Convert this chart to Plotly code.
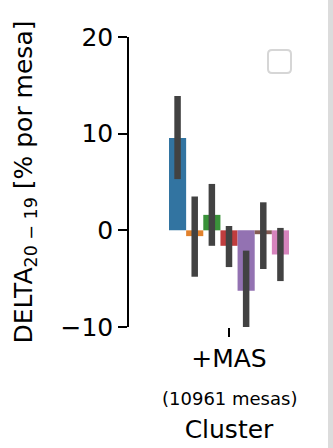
import plotly.graph_objects as go

# ---- data ----
categories = ["+MAS"]
counts = [10961]
groups = ["1", "2", "3", "4", "5", "6", "7"]
means = [9.55, -0.6, 1.6, -1.6, -6.25, -0.4, -2.5]
ci_low = [5.3, -4.8, -1.6, -3.8, -10.1, -4.0, -5.25]
ci_high = [13.9, 3.5, 4.8, 0.45, -2.1, 2.9, 0.25]
colors = ["#3274a1", "#e1812c", "#3a923a", "#c03d3e", "#9372b2", "#845b53", "#d684bd"]
yticks = [-10, 0, 10, 20]

FONT = "DejaVu Sans"
FS = 25

fig = go.Figure()
for g, m, lo, hi, c in zip(groups, means, ci_low, ci_high, colors):
    fig.add_trace(go.Bar(
        x=categories, y=[m], name=g, marker=dict(color=c, line=dict(width=0)),
        error_y=dict(type="data", symmetric=False, array=[hi - m], arrayminus=[m - lo],
                     color="#424242", thickness=6.5, width=0),
        showlegend=False, cliponaxis=False,
    ))

W, H = 328, 448
L, R, T, B = 128, 24, 37, 121
plot_w = W - L - R
plot_h = H - T - B

fig.update_layout(
    width=W, height=H,
    margin=dict(l=L, r=R, t=T, b=B, autoexpand=False),
    plot_bgcolor="white", paper_bgcolor="white",
    barmode="group", bargap=0.2, bargroupgap=0,
    font=dict(family=FONT, size=FS, color="black"),
    xaxis=dict(
        domain=[26 / plot_w, 1], range=[-0.5, 0.5], automargin=False,
        showline=False, showgrid=False, zeroline=False,
        ticks="outside", ticklen=9, tickwidth=1.5, tickcolor="black",
        tickfont=dict(size=FS, family=FONT),
        title=dict(text="Cluster", font=dict(size=FS, family=FONT), standoff=48),
    ),
    yaxis=dict(
        anchor="free", position=0, range=[-10, 20], automargin=False,
        tickvals=yticks, ticktext=[str(v).replace("-", "\u2212") for v in yticks],
        showline=True, linecolor="black", linewidth=1.5,
        showgrid=False, zeroline=False,
        ticks="outside", ticklen=9, tickwidth=1.5, tickcolor="black",
        tickfont=dict(size=FS, family=FONT),
        title=dict(text="DELTA<sub>20 \u2212 19</sub> [% por mesa]",
                   font=dict(size=FS, family=FONT), standoff=20),
    ),
)

# sub-label with number of mesas
fig.add_annotation(
    x=categories[0], xref="x", y=0, yref="paper", yanchor="top",
    yshift=-59, text=f"({counts[0]} mesas)", showarrow=False,
    font=dict(size=18, family=FONT, color="black"),
)

# empty legend frame (rounded square)
r = 4
w = 23
path = (f"M {r},0 L {w-r},0 Q {w},0 {w},{r} L {w},{w-r} Q {w},{w} {w-r},{w} "
        f"L {r},{w} Q 0,{w} 0,{w-r} L 0,{r} Q 0,0 {r},0 Z")
fig.add_shape(type="path", path=path, xref="paper", yref="paper",
              xsizemode="pixel", ysizemode="pixel",
              xanchor=(268 - L) / plot_w, yanchor=1 - (73 - T) / plot_h,
              line=dict(color="#d6d6d6", width=2), fillcolor="white")

fig.write_html(
    "out.html",
    config={"displayModeBar": False},
    post_script="document.body.style.margin='0';document.body.style.overflow='hidden';"
                "document.body.style.background='#dcdcdc';",
)
